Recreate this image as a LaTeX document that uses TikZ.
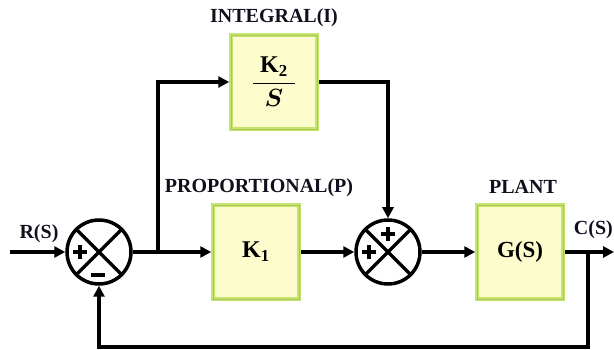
\documentclass[tikz,border=0pt]{standalone}
\usepackage{fontspec}
\setmainfont{Liberation Serif}
\usepackage{amsmath}
\usetikzlibrary{arrows.meta}
\definecolor{boxfill}{RGB}{252,252,205}
\definecolor{boxedge}{RGB}{196,228,110}
\definecolor{boxedgein}{RGB}{170,200,90}
\definecolor{txt}{RGB}{15,15,30}
\begin{document}
\begin{tikzpicture}[x=1pt,y=-1pt,
  blk/.style={draw=boxedge,line width=3.5pt,fill=boxfill,minimum width=86pt,minimum height=94pt,inner sep=0pt,
    postaction={draw=boxedgein,line width=0.6pt}},
  sumj/.style={circle,draw,line width=3.5pt,minimum size=64pt,inner sep=0pt,fill=white},
  lbl/.style={font=\fontsize{20}{22}\selectfont\bfseries,text=txt},
  wire/.style={line width=3.5pt},
  arr/.style={line width=3.5pt,-{Triangle[length=11pt,width=11pt]}},
  sgn/.style={line width=3.5pt}
]
\useasboundingbox (0,0) rectangle (614,350);
% blocks
\node[blk] (int) at (274,82) {\fontsize{24}{26}\selectfont$\dfrac{\;\mathbf{K_2}\;}{\boldsymbol{S}}$};
\node[blk] (prop) at (256,252) {\fontsize{24}{26}\selectfont$\mathbf{K_1}$};
\node[blk] (plant) at (520,252) {\fontsize{23}{26}\selectfont\bfseries G(S)};
% summing junctions
\node[sumj] (s1) at (99,252) {};
\node[sumj] (s2) at (388,252) {};
\draw[sgn] (s1.north east) -- (s1.south west) (s1.north west) -- (s1.south east);
\draw[sgn] (s2.north east) -- (s2.south west) (s2.north west) -- (s2.south east);
% signs
\draw[sgn] (73,252) -- (87,252) (80,245) -- (80,259);
\draw[sgn] (91,275) -- (105,275);
\draw[sgn] (381,234) -- (395,234) (388,227) -- (388,241);
\draw[sgn] (362,252) -- (376,252) (369,245) -- (369,259);
% labels
\node[lbl] (lint) at (274,18) {INTEGRAL(I)};
\node[lbl] (lprop) at (259,188) {PROPORTIONAL(P)};
\node[lbl] (lplant) at (523,187) {PLANT};
\node[lbl] (lr) at (39,234) {R(S)};
\node[lbl,anchor=east,inner sep=1pt] (lc) at (614,230) {C(S)};
% coordinates
\coordinate (in) at (10,252);
\coordinate (br) at (158,252);
\coordinate (bt) at (158,82);
\coordinate (ic) at (388,82);
\coordinate (out) at (614,252);
\coordinate (fb) at (588,252);
\coordinate (fbd) at (588,347);
\coordinate (fbl) at (99,347);
% connectors
\draw[arr] (in) -- (s1.west);
\draw[arr] (s1.east) -- (prop.west);
\draw[arr] (br) -- (bt) -- (int.west);
\draw[arr] (int.east) -- (ic) -- (s2.north);
\draw[arr] (prop.east) -- (s2.west);
\draw[arr] (s2.east) -- (plant.west);
\draw[arr] (plant.east) -- (out);
\draw[arr] (fb) -- (fbd) -- (fbl) -- (s1.south);
\end{tikzpicture}
\end{document}
